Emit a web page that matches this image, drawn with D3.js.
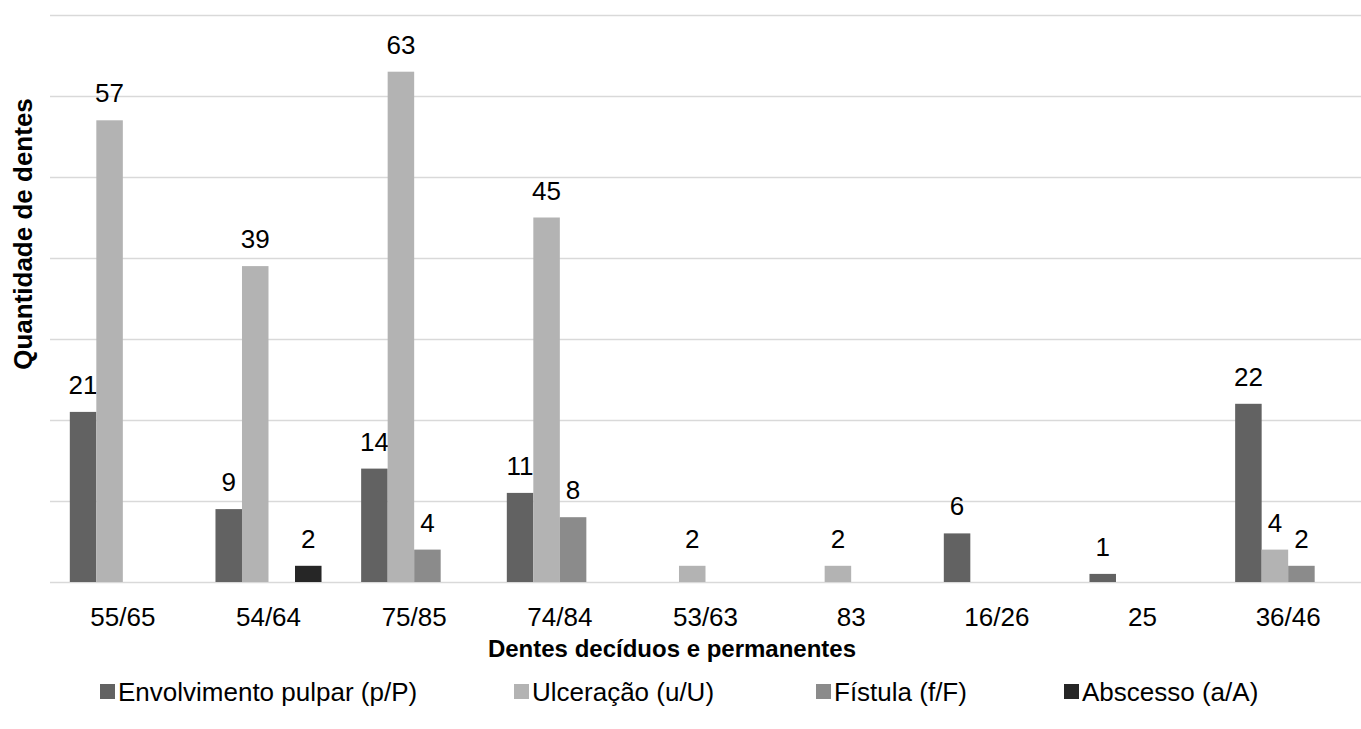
<!DOCTYPE html>
<html>
<head>
<meta charset="utf-8">
<script src="https://cdn.jsdelivr.net/npm/d3@7"></script>
<style>
  body { margin: 0; background: #fff; }
  text { font-family: "Liberation Sans", Arial, sans-serif; }
</style>
</head>
<body>
<div id="chart"></div>
<script>
//Dimensions
const width = 1361;
const height = 729;

//Data
const categories = ["55/65", "54/64", "75/85", "74/84", "53/63", "83", "16/26", "25", "36/46"];
const seriesNames = ["Envolvimento pulpar (p/P)", "Ulceração (u/U)", "Fístula (f/F)", "Abscesso (a/A)"];
const pulpar = [21, 9, 14, 11, 0, 0, 6, 1, 22];
const ulceracao = [57, 39, 63, 45, 2, 2, 0, 0, 4];
const fistula = [0, 0, 4, 8, 0, 0, 0, 0, 2];
const abscesso = [0, 2, 0, 0, 0, 0, 0, 0, 0];
const yTicks = [0, 10, 20, 30, 40, 50, 60, 70];
const colors = ["#626262", "#b3b3b3", "#8b8b8b", "#262626"];

const seriesValues = [pulpar, ulceracao, fistula, abscesso];

//Create the svg element
const svg = d3.select("#chart").append("svg").attr("width", width).attr("height", height);

//Scales
const x = d3.scaleBand().domain(categories).range([50, 1361]).paddingInner(0.272).paddingOuter(0.136);
const xSub = d3.scaleBand().domain(seriesNames).range([0, x.bandwidth()]);
const y = d3.scaleLinear().domain([0, 70]).range([582, 15]);

//Gridlines
svg.append("g")
    .attr("transform", "translate(50,0)")
    .call(d3.axisLeft(y).tickValues(yTicks).tickSize(-(1361 - 50)).tickFormat(""))
    .call(g => g.select(".domain").remove())
    .call(g => g.selectAll("line").attr("stroke", "#d9d9d9").attr("stroke-width", 1.5));

//Bars and value labels, one group per series
seriesNames.forEach((name, s) => {
    const vals = categories.map((c, i) => ({ c: c, v: seriesValues[s][i] })).filter(d => d.v > 0);
    const g = svg.append("g");
    g.selectAll("rect").data(vals).enter().append("rect")
        .attr("x", d => x(d.c) + xSub(name))
        .attr("y", d => y(d.v))
        .attr("width", xSub.bandwidth())
        .attr("height", d => y(0) - y(d.v))
        .attr("fill", colors[s]);
    g.selectAll("text").data(vals).enter().append("text")
        .attr("x", d => x(d.c) + xSub(name) + xSub.bandwidth() / 2)
        .attr("y", d => y(d.v) - 18)
        .attr("text-anchor", "middle")
        .style("font-size", "26px")
        .attr("fill", "#000")
        .text(d => d.v);
});

//X axis
svg.append("g")
    .attr("transform", "translate(0,582)")
    .call(d3.axisBottom(x).tickSize(0).tickPadding(26))
    .call(g => g.select(".domain").remove())
    .call(g => g.selectAll("text").style("font-size", "26px").attr("fill", "#000").style("font-family", "Liberation Sans, Arial, sans-serif"));

//Axis titles
svg.append("text").attr("x", 672).attr("y", 657).attr("text-anchor", "middle")
    .style("font-size", "24px").style("font-weight", "bold").text("Dentes decíduos e permanentes");
svg.append("text").attr("transform", "translate(32,234) rotate(-90)").attr("text-anchor", "middle")
    .style("font-size", "26px").style("font-weight", "bold").text("Quantidade de dentes");

//Legend
const legendX = [100, 514, 816, 1064];
const legend = svg.append("g").selectAll("g")
    .data(seriesNames)
    .enter().append("g")
    .attr("transform", (d, i) => `translate(${legendX[i]},692)`);
legend.append("rect").attr("x", 0).attr("y", -8).attr("width", 15).attr("height", 15).attr("fill", (d, i) => colors[i]);
legend.append("text").attr("x", 18).attr("y", 9).style("font-size", "26px").text(d => d);
</script>
</body>
</html>
